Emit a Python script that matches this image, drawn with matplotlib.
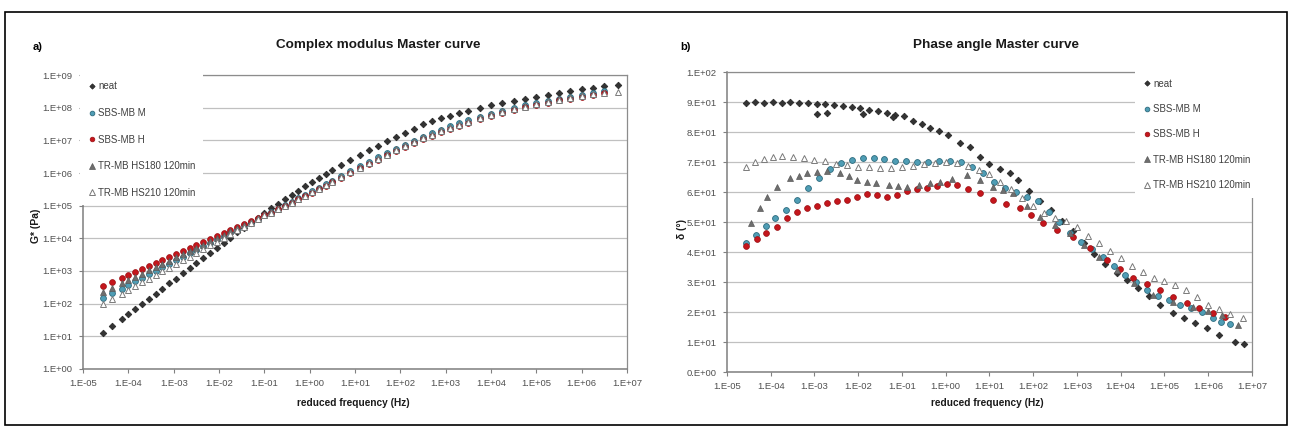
import numpy as np
import matplotlib
matplotlib.use("Agg")
import matplotlib.pyplot as plt
from matplotlib.patches import Rectangle

plt.rcParams['font.family'] = ['Liberation Sans', 'DejaVu Sans']

series_names = ["neat", "SBS-MB M", "SBS-MB H", "TR-MB HS180 120min", "TR-MB HS210 120min"]

# ---- panel a) complex modulus, log10 values ----
logf_a = [-4.55, -4.35, -4.15, -4.0, -3.85, -3.7, -3.55, -3.4, -3.25, -3.1, -2.95, -2.8,
          -2.65, -2.5, -2.35, -2.2, -2.05, -1.9, -1.75, -1.6, -1.45, -1.3, -1.15, -1.0,
          -0.85, -0.7, -0.55, -0.4, -0.25, -0.1, 0.05, 0.2, 0.35, 0.5,
          0.7, 0.9, 1.1, 1.3, 1.5, 1.7, 1.9, 2.1, 2.3, 2.5, 2.7, 2.9, 3.1, 3.3, 3.5,
          3.75, 4.0, 4.25, 4.5, 4.75, 5.0, 5.25, 5.5, 5.75, 6.0, 6.25, 6.5, 6.8]
logG_neat = [1.11, 1.32, 1.53, 1.68, 1.84, 1.99, 2.15, 2.31, 2.46, 2.62, 2.77, 2.93,
             3.09, 3.24, 3.40, 3.55, 3.71, 3.87, 4.02, 4.18, 4.33, 4.48, 4.63, 4.78,
             4.92, 5.06, 5.20, 5.33, 5.46, 5.59, 5.72, 5.85, 5.97, 6.10,
             6.25, 6.40, 6.55, 6.70, 6.84, 6.97, 7.10, 7.22, 7.34, 7.50, 7.60, 7.68, 7.76, 7.84, 7.91,
             7.99, 8.07, 8.14, 8.21, 8.28, 8.34, 8.40, 8.46, 8.51, 8.56, 8.61, 8.65, 8.69]
logG_M = [2.18, 2.32, 2.46, 2.57, 2.68, 2.79, 2.90, 3.00, 3.11, 3.22, 3.33, 3.43,
          3.54, 3.65, 3.76, 3.86, 3.97, 4.08, 4.18, 4.29, 4.40, 4.50, 4.60, 4.70,
          4.80, 4.91, 5.01, 5.12, 5.22, 5.33, 5.44, 5.55, 5.66, 5.77,
          5.92, 6.06, 6.20, 6.34, 6.48, 6.61, 6.74, 6.87, 6.99, 7.11, 7.22, 7.33, 7.43, 7.53, 7.62,
          7.72, 7.82, 7.91, 7.99, 8.07, 8.14, 8.21, 8.28, 8.34, 8.40, 8.45, 8.50, np.nan]
logG_H = [2.55, 2.67, 2.79, 2.88, 2.97, 3.07, 3.16, 3.25, 3.34, 3.43, 3.52, 3.61,
          3.70, 3.79, 3.88, 3.97, 4.07, 4.16, 4.25, 4.34, 4.43, 4.52, 4.61, 4.70,
          4.79, 4.89, 4.99, 5.09, 5.19, 5.29, 5.40, 5.50, 5.61, 5.72,
          5.86, 6.00, 6.14, 6.28, 6.41, 6.54, 6.67, 6.79, 6.91, 7.03, 7.14, 7.25, 7.35, 7.45, 7.54,
          7.65, 7.75, 7.84, 7.93, 8.01, 8.08, 8.15, 8.22, 8.28, 8.34, 8.39, 8.44, np.nan]
logG_HS180 = [2.36, 2.49, 2.62, 2.72, 2.82, 2.92, 3.02, 3.12, 3.22, 3.32, 3.42, 3.52,
              3.61, 3.71, 3.81, 3.91, 4.01, 4.11, 4.21, 4.31, 4.41, 4.51, 4.61, 4.71,
              4.81, 4.91, 5.01, 5.11, 5.21, 5.31, 5.42, 5.53, 5.64, 5.75,
              5.90, 6.04, 6.18, 6.32, 6.46, 6.59, 6.72, 6.85, 6.97, 7.09, 7.20, 7.31, 7.41, 7.51, 7.60,
              7.70, 7.80, 7.89, 7.97, 8.05, 8.12, 8.19, 8.26, 8.32, 8.38, 8.43, np.nan, np.nan]
logG_HS210 = [2.00, 2.15, 2.30, 2.42, 2.53, 2.65, 2.76, 2.87, 2.99, 3.10, 3.22, 3.33,
              3.44, 3.56, 3.67, 3.79, 3.90, 4.01, 4.13, 4.24, 4.36, 4.47, 4.58, 4.70,
              4.79, 4.89, 4.99, 5.09, 5.19, 5.30, 5.41, 5.51, 5.62, 5.73,
              5.88, 6.02, 6.16, 6.30, 6.43, 6.56, 6.69, 6.82, 6.94, 7.06, 7.17, 7.28, 7.38, 7.48, 7.57,
              7.68, 7.78, 7.87, 7.95, 8.03, 8.10, 8.17, 8.24, 8.30, 8.36, 8.41, 8.45, 8.47]

# ---- panel b) phase angle (degrees) ----
logf_b_neat = [-4.57, -4.36, -4.15, -3.95, -3.75, -3.55, -3.35, -3.15, -2.95, -2.75, -2.55, -2.35,
               -2.15, -1.95, -1.75, -1.55, -1.35, -1.15, -0.95, -0.75, -0.55, -0.35, -0.15, 0.05,
               0.33, 0.55, 0.78, 1.0, 1.25, 1.47, 1.65, 1.9, 2.15, 2.4, 2.65, 2.9, 3.15, 3.4,
               3.65, 3.91, 4.14, 4.4, 4.65, 4.9, 5.2, 5.45, 5.7, 5.97, 6.25, 6.61, 6.82,
               -2.94, -2.72, -1.9, -1.2]
delta_neat = [89.8, 89.9, 89.8, 89.9, 89.8, 89.9, 89.7, 89.6, 89.4, 89.2, 89.0, 88.8,
              88.4, 88.0, 87.5, 87.0, 86.5, 85.8, 85.2, 83.8, 82.8, 81.5, 80.3, 79.0,
              76.3, 75.0, 71.7, 69.5, 67.8, 66.3, 64.0, 60.5, 57.0, 54.0, 50.5, 47.0, 43.0, 39.5,
              36.0, 33.0, 30.7, 28.0, 25.5, 22.5, 19.6, 18.0, 16.3, 14.6, 12.5, 10.0, 9.3,
              86.0, 86.5, 86.0, 85.0]

logf_b_M = [-4.57, -4.34, -4.1, -3.9, -3.65, -3.4, -3.15, -2.9, -2.65, -2.4, -2.15, -1.9,
            -1.65, -1.4, -1.15, -0.9, -0.65, -0.4, -0.15, 0.1, 0.35, 0.6, 0.85, 1.1,
            1.35, 1.6, 1.85, 2.1, 2.35, 2.6, 2.85, 3.1, 3.35, 3.6, 3.85, 4.1, 4.35, 4.6,
            4.85, 5.1, 5.35, 5.6, 5.85, 6.1, 6.3, 6.5]
delta_M = [43.0, 45.7, 48.7, 51.5, 54.0, 57.3, 61.5, 64.8, 67.8, 69.8, 70.8, 71.2,
           71.3, 71.0, 70.5, 70.2, 70.0, 70.0, 70.2, 70.3, 70.0, 68.5, 66.5, 63.5,
           61.5, 60.0, 58.5, 57.0, 53.5, 50.0, 46.3, 43.5, 41.0, 38.5, 35.5, 32.5, 30.0, 27.5,
           25.5, 24.0, 22.5, 21.5, 20.0, 18.0, 16.7, 16.0]

logf_b_H = [-4.57, -4.31, -4.1, -3.86, -3.63, -3.4, -3.17, -2.94, -2.71, -2.48,
            -2.26, -2.03, -1.8, -1.57, -1.34, -1.11, -0.88, -0.65, -0.42, -0.19,
            0.04, 0.26, 0.5, 0.78, 1.08, 1.38, 1.7, 1.95, 2.22, 2.55,
            2.91, 3.3, 3.69, 3.98, 4.28, 4.6, 4.9, 5.2, 5.51, 5.8, 6.1, 6.38]
delta_H = [42.0, 44.3, 46.3, 48.3, 51.5, 53.5, 54.7, 55.5, 56.3, 57.0,
           57.3, 58.5, 59.5, 59.0, 58.5, 59.0, 60.3, 61.0, 61.5, 62.0,
           62.8, 62.3, 61.0, 59.7, 57.3, 56.0, 54.7, 52.5, 49.7, 47.5,
           45.0, 41.3, 37.3, 34.3, 31.3, 29.3, 27.3, 25.0, 23.0, 21.3, 19.7, 18.3]

logf_b_HS180 = [-4.45, -4.25, -4.09, -3.86, -3.56, -3.35, -3.17, -2.94, -2.71, -2.42,
                -2.2, -2.03, -1.8, -1.6, -1.3, -1.1, -0.89, -0.6, -0.35, -0.13,
                0.15, 0.49, 0.78, 1.08, 1.3, 1.54, 1.85, 2.15, 2.5, 2.84,
                3.15, 3.5, 3.91, 4.3, 4.74, 5.2, 5.65, 6.0, 6.31, 6.68]
delta_HS180 = [49.7, 54.7, 58.3, 61.7, 64.7, 65.5, 66.3, 66.8, 67.0, 66.5,
               65.5, 64.0, 63.5, 63.0, 62.3, 62.0, 61.7, 62.3, 63.0, 63.3,
               64.5, 65.7, 64.0, 61.7, 60.7, 59.7, 55.5, 51.7, 49.0, 46.3,
               42.5, 38.5, 34.0, 29.8, 25.7, 23.5, 21.7, 20.3, 19.0, 15.7]

logf_b_HS210 = [-4.57, -4.36, -4.15, -3.95, -3.75, -3.5, -3.25, -3.0, -2.75, -2.5, -2.25, -2.0,
                -1.75, -1.5, -1.25, -1.0, -0.75, -0.5, -0.25, 0.0, 0.25, 0.5, 0.75, 1.0,
                1.25, 1.5, 1.75, 2.0, 2.25, 2.5, 2.75, 3.0, 3.25, 3.5, 3.75, 4.0,
                4.25, 4.5, 4.75, 5.0, 5.25, 5.5, 5.75, 6.0, 6.25, 6.5, 6.8]
delta_HS210 = [68.5, 70.0, 71.0, 71.8, 72.0, 71.8, 71.3, 70.8, 70.2, 69.5, 69.0, 68.5,
               68.2, 68.0, 68.0, 68.3, 68.8, 69.3, 69.8, 70.0, 69.8, 68.8, 67.3, 66.0,
               63.5, 61.0, 58.0, 55.5, 53.0, 51.3, 50.3, 48.5, 45.5, 43.0, 40.5, 38.0,
               35.5, 33.3, 31.5, 30.5, 29.0, 27.5, 25.0, 22.5, 21.0, 19.5, 18.0]

# tick labels as Excel prints them
xtick_labels = ["1.E-05", "1.E-04", "1.E-03", "1.E-02", "1.E-01", "1.E+00", "1.E+01",
                "1.E+02", "1.E+03", "1.E+04", "1.E+05", "1.E+06", "1.E+07"]
ytick_labels_a = ["1.E+00", "1.E+01", "1.E+02", "1.E+03", "1.E+04", "1.E+05",
                  "1.E+06", "1.E+07", "1.E+08", "1.E+09"]
ytick_labels_b = ["0.E+00", "1.E+01", "2.E+01", "3.E+01", "4.E+01", "5.E+01",
                  "6.E+01", "7.E+01", "8.E+01", "9.E+01", "1.E+02"]

styles = [
    dict(marker="D", ms=3.4, mfc="#333333", mec="#222222", mew=0.5),
    dict(marker="o", ms=4.2, mfc="#4f9db5", mec="#2c6a7d", mew=0.6),
    dict(marker="o", ms=4.2, mfc="#c4161c", mec="#9a1014", mew=0.5),
    dict(marker="^", ms=4.7, mfc="#6e6e6e", mec="#5a5a5a", mew=0.5),
    dict(marker="^", ms=4.7, mfc="white", mec="#7a7a7a", mew=0.7),
]

W, H = 1292, 434
fig = plt.figure(figsize=(W / 100, H / 100), dpi=100)
fig.patch.set_facecolor("white")

ax_a = fig.add_axes([83 / W, (H - 369) / H, 544 / W, 294 / H])
ax_b = fig.add_axes([727 / W, (H - 372) / H, 525 / W, 300 / H])

f_a = np.power(10.0, logf_a)
for name, vals, st in zip(series_names, [logG_neat, logG_M, logG_H, logG_HS180, logG_HS210], styles):
    ax_a.plot(f_a, np.power(10.0, np.array(vals, dtype=float)), ls="none", label=name, **st)

b_sets = [(logf_b_neat, delta_neat), (logf_b_M, delta_M), (logf_b_H, delta_H),
          (logf_b_HS180, delta_HS180), (logf_b_HS210, delta_HS210)]
for name, (lf, d), st in zip(series_names, b_sets, styles):
    ax_b.plot(np.power(10.0, lf), d, ls="none", label=name, **st)

xticks = [10.0 ** e for e in range(-5, 8)]
for ax in (ax_a, ax_b):
    ax.set_xscale("log")
    ax.set_xlim(1e-5, 1e7)
    ax.set_xticks(xticks)
    ax.set_xticklabels(xtick_labels)
    ax.minorticks_off()
    ax.yaxis.grid(True, color="#c0c0c0", lw=0.9)
    ax.set_axisbelow(True)
    ax.tick_params(axis="both", which="both", colors="#808080", labelcolor="#505050",
                   labelsize=6.8, length=3, width=0.8, pad=4.5)
    for side in ("left", "bottom"):
        ax.spines[side].set_color("#7f7f7f")
        ax.spines[side].set_linewidth(1.1)
    for side in ("top", "right"):
        ax.spines[side].set_color("#8c8c8c")
        ax.spines[side].set_linewidth(0.9)

ax_a.set_yscale("log")
ax_a.set_ylim(1, 1e9)
ax_a.set_yticks([10.0 ** e for e in range(0, 10)])
ax_a.set_yticklabels(ytick_labels_a)
ax_a.minorticks_off()

ax_b.set_ylim(0, 100)
ax_b.set_yticks(np.arange(0, 101, 10))
ax_b.set_yticklabels(ytick_labels_b)

leg_kw = dict(loc="upper left", borderaxespad=0, frameon=True, fancybox=False, framealpha=1,
              facecolor="white", edgecolor="white", fontsize=7, borderpad=0.8,
              handlelength=0.8, handletextpad=0.25, numpoints=1, markerscale=0.8)
leg_a = ax_a.legend(bbox_to_anchor=(-0.0055, 1.0044), labelspacing=1.7, **leg_kw)
leg_b = ax_b.legend(bbox_to_anchor=(0.777, 1.004), labelspacing=1.58, **leg_kw)
for leg in (leg_a, leg_b):
    leg.get_frame().set_linewidth(0)
    for t in leg.get_texts():
        t.set_color("#404040")

# titles and axis labels
fig.text(378 / W, 1 - 45 / H, "Complex modulus Master curve", ha="center", va="center",
         fontsize=9.7, fontweight="bold", color="#1a1a1a")
fig.text(996 / W, 1 - 45 / H, "Phase angle Master curve", ha="center", va="center",
         fontsize=9.7, fontweight="bold", color="#1a1a1a")
fig.text(38 / W, 1 - 47 / H, "a)", ha="center", va="center", fontsize=8, fontweight="bold")
fig.text(685 / W, 1 - 47 / H, "b)", ha="center", va="center", fontsize=8, fontweight="bold")
fig.text(36 / W, 1 - 226 / H, "G* (Pa)", rotation=90, ha="center", va="center",
         fontsize=7.5, fontweight="bold", color="#1a1a1a")
fig.text(682 / W, 1 - 229 / H, "δ (°)", rotation=90, ha="center", va="center",
         fontsize=7.5, fontweight="bold", color="#1a1a1a")
fig.text(353 / W, 1 - 403 / H, "reduced frequency (Hz)", ha="center", va="center",
         fontsize=7.3, fontweight="bold", color="#1a1a1a")
fig.text(987 / W, 1 - 403 / H, "reduced frequency (Hz)", ha="center", va="center",
         fontsize=7.3, fontweight="bold", color="#1a1a1a")

# outer frame
fig.patches.append(Rectangle((5 / W, 9 / H), 1282 / W, 413 / H, transform=fig.transFigure,
                             fill=False, ec="black", lw=1.2))

fig.savefig("out.png", dpi=100)
